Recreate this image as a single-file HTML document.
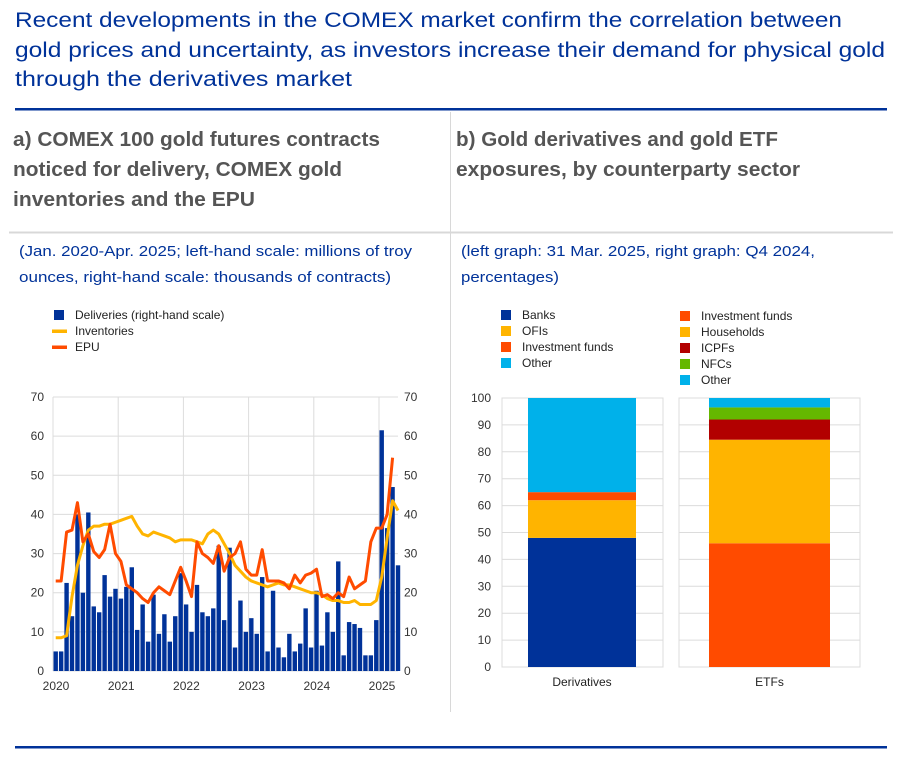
<!DOCTYPE html>
<html><head><meta charset="utf-8"><style>
body{margin:0;background:#fff;width:902px;height:764px;overflow:hidden}
svg{display:block;font-family:"Liberation Sans",sans-serif}
</style></head><body>
<svg id="s" width="902" height="764">
<g fill="#003299" font-size="21">
<text x="15" y="27" textLength="827" lengthAdjust="spacingAndGlyphs">Recent developments in the COMEX market confirm the correlation between</text>
<text x="15" y="57" textLength="870" lengthAdjust="spacingAndGlyphs">gold prices and uncertainty, as investors increase their demand for physical gold</text>
<text x="15" y="86" textLength="337" lengthAdjust="spacingAndGlyphs">through the derivatives market</text>
</g>
<rect x="15" y="108" width="872" height="2.5" fill="#003299"/>
<line x1="450.5" y1="112" x2="450.5" y2="712" stroke="#d8d8d8"/>
<line x1="9" y1="232.5" x2="893" y2="232.5" stroke="#d8d8d8" stroke-width="2"/>
<g fill="#555" font-size="20" font-weight="bold">
<text x="13" y="146" textLength="367" lengthAdjust="spacingAndGlyphs">a) COMEX 100 gold futures contracts</text>
<text x="13" y="176" textLength="329" lengthAdjust="spacingAndGlyphs">noticed for delivery, COMEX gold</text>
<text x="13" y="206" textLength="242" lengthAdjust="spacingAndGlyphs">inventories and the EPU</text>
</g>
<g fill="#555" font-size="20" font-weight="bold">
<text x="456" y="146" textLength="322" lengthAdjust="spacingAndGlyphs">b) Gold derivatives and gold ETF</text>
<text x="456" y="176" textLength="344" lengthAdjust="spacingAndGlyphs">exposures, by counterparty sector</text>
</g>
<g fill="#003299" font-size="15">
<text x="19" y="256" textLength="393" lengthAdjust="spacingAndGlyphs">(Jan. 2020-Apr. 2025; left-hand scale: millions of troy</text>
<text x="19" y="282" textLength="372" lengthAdjust="spacingAndGlyphs">ounces, right-hand scale: thousands of contracts)</text>
</g>
<g fill="#003299" font-size="15">
<text x="461" y="256" textLength="354" lengthAdjust="spacingAndGlyphs">(left graph: 31 Mar. 2025, right graph: Q4 2024,</text>
<text x="461" y="282" textLength="98" lengthAdjust="spacingAndGlyphs">percentages)</text>
</g>
<rect x="15" y="746" width="872" height="2.5" fill="#003299"/>
<g id="ca"></g><g id="cb"></g>
</svg>
<script>
const deliveries=[5,5,22.5,14,40,20,40.5,16.5,15,24.5,19,21,18.5,21.5,26.5,10.5,17,7.5,19.5,9.5,14.5,7.5,14,25,17,10,22,15,14,16,32,13,31.5,6,18,10,13.5,9.5,24,5,20.5,6,3.5,9.5,5,7,16,6,20.5,6.5,15,10,28,4,12.5,12,11,4,4,13,61.5,36.5,47,27];
const inventories=[8.5,8.5,9,19,27,32,36,37,37,37.5,37.5,38,38.5,39,39.5,37,35,34.5,35.5,35,34.5,34,33,33.5,33.5,33.5,33,32.5,35,36,35,32.5,30,27,25.5,24,23,22.5,22,21.5,22,22.5,22,22,21.5,21,20.5,20,20,19.5,18.5,18,18,17.5,17.5,18,17,17,17,18,24,34,43.5,41];
const epu=[23,23,35.5,36,43,33,35,30.5,29,31,37.5,30,28,22,21,20,18.5,17.5,20,21.5,20.5,19.5,23,26.5,23,19,33,30,29,27.5,32,25.5,29,30,33,26,24.5,24.5,31,23,23,23,22.5,21,24.5,22.5,24.5,25,26,19,19.5,18.5,20,19,24,21,22,23,33,36.5,36.5,40,54.5];
const yTicks=[0,10,20,30,40,50,60,70];
const years=["2020","2021","2022","2023","2024","2025"];
const sectorsB=["Derivatives","ETFs"];
const derivSeries=[["Banks",48,"#003299"],["OFIs",14,"#ffb400"],["Investment funds",3,"#ff4b00"],["Other",35,"#00b1ea"]];
const etfSeries=[["Investment funds",46,"#ff4b00"],["Households",38.5,"#ffb400"],["ICPFs",7.5,"#b20000"],["NFCs",4.5,"#65b800"],["Other",3.5,"#00b1ea"]];
const pTicks=[0,10,20,30,40,50,60,70,80,90,100];
const NS="http://www.w3.org/2000/svg";
function mk(p,t,a,txt){const e=document.createElementNS(NS,t);for(const k in a)e.setAttribute(k,a[k]);if(txt!=null)e.textContent=txt;p.appendChild(e);return e;}
const ca=document.getElementById('ca');
const X0=53,X1=398,Y0=671,Y1=397,mw=(379-53)/60;
const xm=i=>X0+mw*(i+0.5), ya=v=>Y0-(v/70)*(Y0-Y1);
let g=mk(ca,'g',{});

yTicks.forEach(v=>{mk(g,'line',{x1:X0,x2:X1,y1:ya(v),y2:ya(v),stroke:'#dcdcdc'});
 let t=mk(g,'text',{x:44,y:ya(v)+4,'text-anchor':'end','font-size':12,fill:'#333'},v);
 
 t=mk(g,'text',{x:404,y:ya(v)+4,'font-size':12,fill:'#333'},v);
 });
years.forEach((y,i)=>{const x=X0+i*12*mw;mk(g,'line',{x1:x,x2:x,y1:Y1,y2:Y0,stroke:'#dcdcdc'});
 const t=mk(g,'text',{x:x+3,y:690,'text-anchor':'middle','font-size':12,fill:'#333'},y);
 });
deliveries.forEach((v,i)=>{const r=mk(ca,'rect',{x:xm(i)-2.2,y:ya(v),width:4.4,height:Y0-ya(v),fill:'#003299'});
 });
function line(d,c,n){const p=mk(ca,'polyline',{points:d.map((v,i)=>xm(i)+','+ya(v)).join(' '),fill:'none',stroke:c,'stroke-width':3,'stroke-linejoin':'round'});
 }
line(inventories,'#ffb400','inventories-line');line(epu,'#ff4b00','epu-line');
[["Deliveries (right-hand scale)","#003299","b"],["Inventories","#ffb400","l"],["EPU","#ff4b00","l"]].forEach((l,i)=>{
 const y=315+i*16;const lg=mk(ca,'g',{});
 if(l[2]=='b')mk(lg,'rect',{x:54,y:y-5,width:10,height:10,fill:l[1]});else mk(lg,'rect',{x:52,y:y-1.5,width:15,height:3.5,fill:l[1]});
 mk(lg,'text',{x:75,y:y+4,'font-size':12,fill:'#222'},l[0]);});
const cb=document.getElementById('cb');
const PY0=667,PY1=398,yp=v=>PY0-(v/100)*(PY0-PY1);
const panels=[[502,663,528,636,derivSeries],[679,860,709,830,etfSeries]];
panels.forEach((p,k)=>{const pg=mk(cb,'g',{});
 mk(pg,'rect',{x:p[0],y:PY1,width:p[1]-p[0],height:PY0-PY1,fill:'none',stroke:'#dcdcdc'});
 pTicks.forEach(v=>mk(pg,'line',{x1:p[0],x2:p[1],y1:yp(v),y2:yp(v),stroke:'#dcdcdc'}));
 let acc=0;p[4].forEach(s=>{const r=mk(pg,'rect',{x:p[2],y:yp(acc+s[1]),width:p[3]-p[2],height:yp(acc)-yp(acc+s[1]),fill:s[2]});
  acc+=s[1];});
 const t=mk(pg,'text',{x:(p[2]+p[3])/2,y:686,'text-anchor':'middle','font-size':12,fill:'#222'},sectorsB[k]);
 });
pTicks.forEach(v=>{const t=mk(cb,'text',{x:491,y:yp(v)+4,'text-anchor':'end','font-size':12,fill:'#333'},v);
 });
derivSeries.forEach((s,i)=>{const y=315+i*16;const lg=mk(cb,'g',{});
 mk(lg,'rect',{x:501,y:y-5,width:10,height:10,fill:s[2]});mk(lg,'text',{x:522,y:y+4,'font-size':12,fill:'#222'},s[0]);});
etfSeries.forEach((s,i)=>{const y=316+i*16;const lg=mk(cb,'g',{});
 mk(lg,'rect',{x:680,y:y-5,width:10,height:10,fill:s[2]});mk(lg,'text',{x:701,y:y+4,'font-size':12,fill:'#222'},s[0]);});
</script>
</body></html>
